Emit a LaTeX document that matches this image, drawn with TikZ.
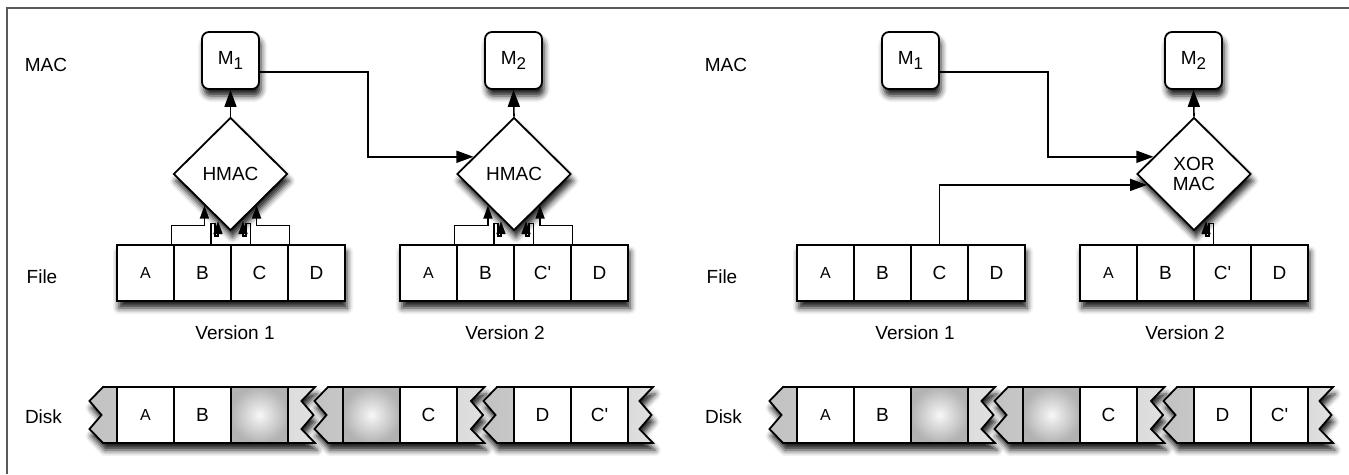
\documentclass[tikz,border=0pt]{standalone}
\usepackage{fontspec}
\setmainfont{Liberation Sans}
\usetikzlibrary{arrows.meta,shapes.geometric,calc,shadows.blur}
\newcommand\msub[1]{\raisebox{-5pt}{\fontsize{17}{17}\selectfont #1}}
\tikzset{
  txt/.style={font=\fontsize{19}{21}\selectfont},
  lbl/.style={txt, inner sep=0pt},
  shad/.style={blur shadow={shadow xshift=2pt, shadow yshift=-7pt, shadow blur radius=6pt, shadow opacity=90}},
  mbox/.style={draw, line width=1.8pt, rounded corners=7pt, fill=white, minimum width=57pt, minimum height=57pt, inner sep=0pt, txt, shad},
  dia/.style={draw, shape=diamond, line width=1.8pt, fill=white, minimum width=114pt, minimum height=113pt, inner sep=0pt, txt, align=center, shad},
  cellbase/.style={draw, line width=1.8pt, minimum width=57pt, minimum height=56pt, inner sep=0pt, txt},
  cell/.style={cellbase, fill=white},
  small/.style={font=\fontsize{16}{16}\selectfont},
  graycell/.style={cellbase, shading=radial, inner color=white!97!black, outer color=black!30},
  filebg/.style={fill=white, minimum width=228pt, minimum height=56pt, inner sep=0pt, shad},
  seg/.style={draw, line width=1.8pt, left color=black!24, right color=black!12, line join=miter, shad},
  arr/.style={line width=1.6pt, -{Triangle[length=17pt,width=12pt,fill=black]}},
  sarr/.style={line width=1.6pt, -{Triangle[length=13pt,width=9pt,fill=black]}},
  frame/.style={draw=black!65, line width=2pt}
}
\begin{document}
\begin{tikzpicture}[x=1pt,y=-1pt]
\useasboundingbox (0,0) rectangle (1349,474);
\draw[frame] (6.5,474) -- (6.5,7.5) -- (1349,7.5);

\foreach \o/\s in {0/L,680/R}{
  \node[lbl] (mac\s) at (46+\o,65) {MAC};
  \node[lbl] (file\s) at (42+\o,277) {File};
  \node[lbl] (disk\s) at (43.5+\o,417) {Disk};
  \node[mbox] (\s m1) at (230.5+\o,60.5) {M\msub{1}};
  \node[mbox] (\s m2) at (513.5+\o,60.5) {M\msub{2}};
  % file version 1
  \node[filebg] (\s f1) at (231+\o,273) {};
  \node[cell,small] (\s a1) at (145.5+\o,273) {A};
  \node[cell] (\s b1) at (202.5+\o,273) {B};
  \node[cell] (\s c1) at (259.5+\o,273) {C};
  \node[cell] (\s d1) at (316.5+\o,273) {D};
  \node[lbl] (\s v1) at (235+\o,333) {Version 1};
  % file version 2
  \node[filebg] (\s f2) at (514+\o,273) {};
  \node[cell,small] (\s a2) at (428.5+\o,273) {A};
  \node[cell] (\s b2) at (485.5+\o,273) {B};
  \node[cell] (\s c2) at (542.5+\o,273) {C\textquotesingle};
  \node[cell] (\s d2) at (599.5+\o,273) {D};
  \node[lbl] (\s v2) at (505+\o,333) {Version 2};
  % disk segments
  \foreach \a/\b in {103/315, 328/484.5, 497/653}{
    \path[seg] (\a+\o,387) -- (\b+\o,387) -- ++(-13.5,14) -- ++(12,14) -- ++(-12,14) -- ++(13.5,14)
      -- (\a+\o,443) -- ++(-13.5,-14) -- ++(12,-14) -- ++(-12,-14) -- cycle;
  }
  \node[cell,small] (\s dA) at (145.5+\o,415) {A};
  \node[cell] (\s dB) at (202.5+\o,415) {B};
  \node[graycell] (\s dg1) at (259.5+\o,415) {};
  \node[graycell] (\s dg2) at (371.5+\o,415) {};
  \node[cell] (\s dC) at (428.5+\o,415) {C};
  \node[cell] (\s dD) at (542.5+\o,415) {D};
  \node[cell] (\s dCp) at (599.5+\o,415) {C\textquotesingle};
}

% left panel: HMAC diamonds
\node[dia] (h1) at (230.5,174) {HMAC};
\node[dia] (h2) at (514,174) {HMAC};
\draw[arr] (h1.north) -- (Lm1.south);
\draw[arr] (h2.north) -- (Lm2.south);
\coordinate (e1) at ($(h2.west)!0.3!(h2.north)$);
\draw[arr] ([yshift=-11.5pt]Lm1.east) -- ++(108,0) |- (e1);

\foreach \h/\n in {h1/1, h2/2}{
  \coordinate (tl\n) at ($(\h.south)!0.45!(\h.west)$);
  \coordinate (tr\n) at ($(\h.south)!0.45!(\h.east)$);
  \draw[sarr] ([xshift=-3.3pt]La\n.north east) |- ($(tl\n)+(0,20)$) -- (tl\n);
  \draw[sarr] ([xshift=2.3pt]Ld\n.north west) |- ($(tr\n)+(0,20)$) -- (tr\n);
  \draw[sarr] ([xshift=8.2pt]Lb\n.north) -- ++(0,-20.5) -- ++(4.3,0) -- ++(0,12.5) -- ++(3,0) -- ++(0,-15);
  \draw[sarr] ([xshift=-9.2pt]Lc\n.north) -- ++(0,-20.5) -- ++(-4.3,0) -- ++(0,12.5) -- ++(-3,0) -- ++(0,-15);
}

% right panel: XOR MAC
\node[dia] (x2) at (1194,174) {XOR\\[-1pt]MAC};
\draw[arr] (x2.north) -- (Rm2.south);
\coordinate (e2) at ($(x2.west)!0.3!(x2.north)$);
\coordinate (e3) at ($(x2.west)!0.19!(x2.south)$);
\draw[arr] ([yshift=-11.5pt]Rm1.east) -- ++(108,0) |- (e2);
\draw[arr] (Rc1.north) |- (e3);
\draw[sarr] ([xshift=-9.2pt]Rc2.north) -- ++(0,-20.5) -- ++(-4.3,0) -- ++(0,12.5) -- ++(-3,0) -- ++(0,-15);
\end{tikzpicture}
\end{document}
